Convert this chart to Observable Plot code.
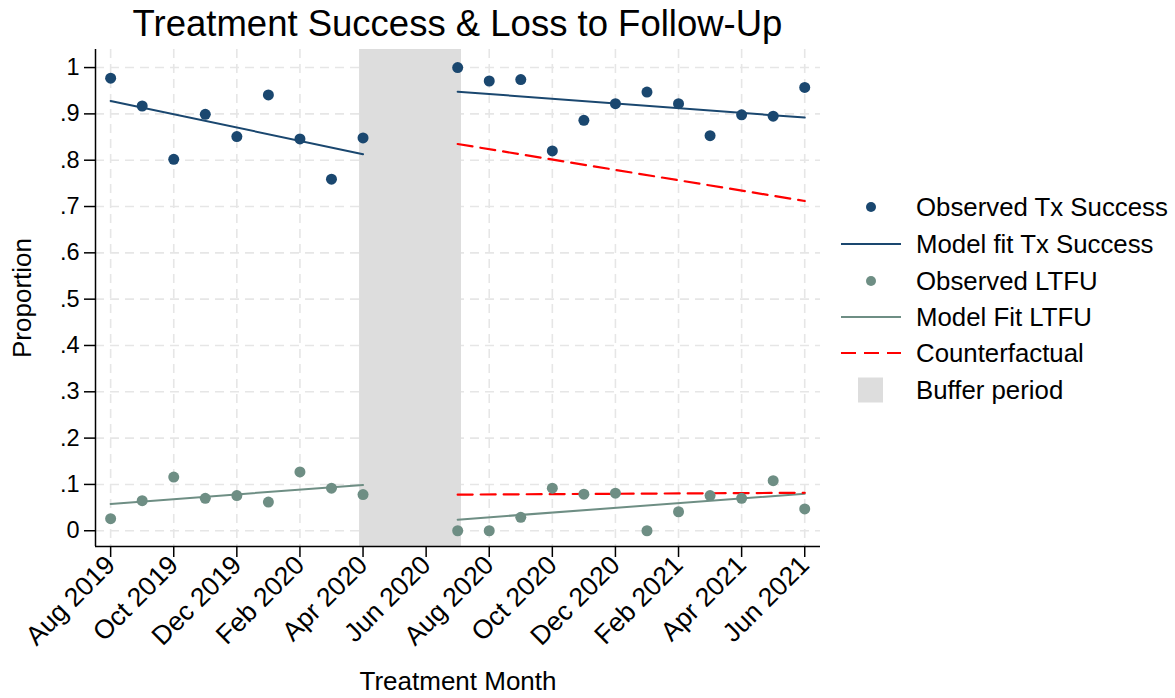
<!DOCTYPE html>
<html>
<head>
<meta charset="utf-8">
<script src="https://cdn.jsdelivr.net/npm/d3@7"></script>
<script src="https://cdn.jsdelivr.net/npm/@observablehq/plot@0.6"></script>
<style>
  html, body { margin: 0; padding: 0; background: #fff; }
  body { width: 1175px; height: 698px; position: relative; overflow: hidden;
         font-family: "Liberation Sans", Arial, Helvetica, sans-serif; color: #000; }
  #title { position: absolute; top: 2px; left: 0; width: 915px; height: 44px; line-height: 44px;
           text-align: center; font-size: 36.5px; }
  #chart { position: absolute; top: 44px; left: 0; }
  #legend { position: absolute; left: 0; top: 0; }
  .item { position: absolute; left: 838px; height: 36px; display: flex; align-items: center; font-size: 25.8px; white-space: nowrap; }
  .item svg { width: 66px; height: 30px; margin-right: 12px; }
</style>
</head>
<body>
<div id="title">Treatment Success &amp; Loss to Follow-Up</div>
<div id="chart"></div>
<div id="legend"></div>
<script>
// month index: 0 = Aug 2019 ... 22 = Jun 2021
const tickMonths = [0, 2, 4, 6, 8, 10, 12, 14, 16, 18, 20, 22];
const tickLabels = ["Aug 2019", "Oct 2019", "Dec 2019", "Feb 2020", "Apr 2020", "Jun 2020",
                    "Aug 2020", "Oct 2020", "Dec 2020", "Feb 2021", "Apr 2021", "Jun 2021"];
const yTicks = [0, 0.1, 0.2, 0.3, 0.4, 0.5, 0.6, 0.7, 0.8, 0.9, 1];

const preMonths = [0, 1, 2, 3, 4, 5, 6, 7, 8];
const postMonths = [11, 12, 13, 14, 15, 16, 17, 18, 19, 20, 21, 22];

const preTx = [0.977, 0.917, 0.802, 0.899, 0.851, 0.941, 0.846, 0.759, 0.848];
const postTx = [1.0, 0.971, 0.974, 0.820, 0.886, 0.922, 0.947, 0.922, 0.853, 0.898, 0.895, 0.957];
const preLtfu = [0.026, 0.065, 0.116, 0.070, 0.076, 0.062, 0.127, 0.092, 0.078];
const postLtfu = [0.0, 0.0, 0.029, 0.092, 0.079, 0.081, 0.0, 0.041, 0.076, 0.070, 0.108, 0.047];

const preFitMonths = [0, 8];
const postFitMonths = [11, 22];
const fitTxPre = [0.928, 0.813];
const fitTxPost = [0.948, 0.892];
const fitLtfuPre = [0.058, 0.099];
const fitLtfuPost = [0.024, 0.080];
const cfTx = [0.835, 0.712];
const cfLtfu = [0.078, 0.082];

const bufferStart = 7.89;
const bufferEnd = 11.12;

const legendLabels = ["Observed Tx Success", "Model fit Tx Success", "Observed LTFU",
                      "Model Fit LTFU", "Counterfactual", "Buffer period"];

const navy = "#1a476f";
const green = "#6e8e84";
const red = "#ff0000";
const gray = "#dddddd";

const xDomain = [-0.48, 22.5];
const yDomain = [-0.034, 1.039];

const pts = (xs, ys) => xs.map((x, i) => ({x, y: ys[i]}));
const yFmt = d => d === 0 ? "0" : d === 1 ? "1" : "." + Math.round(d * 10);
const xFmt = d => tickLabels[tickMonths.indexOf(d)];

const plot = Plot.plot({
  width: 840,
  height: 654,
  marginTop: 5,
  marginLeft: 95,
  marginRight: 20,
  marginBottom: 152,
  style: {fontFamily: '"Liberation Sans", Arial, Helvetica, sans-serif', fontSize: "21px", color: "#000", background: "#fff"},
  x: {domain: xDomain},
  y: {domain: yDomain},
  marks: [
    Plot.ruleY(yTicks, {stroke: "#e6e6e6", strokeWidth: 1.6, strokeDasharray: "9,6"}),
    Plot.ruleX(tickMonths, {stroke: "#e6e6e6", strokeWidth: 1.6, strokeDasharray: "9,6"}),
    Plot.rectX([{x1: bufferStart, x2: bufferEnd}], {x1: "x1", x2: "x2", fill: gray}),
    Plot.line(pts(preFitMonths, fitTxPre), {x: "x", y: "y", stroke: navy, strokeWidth: 2}),
    Plot.line(pts(postFitMonths, fitTxPost), {x: "x", y: "y", stroke: navy, strokeWidth: 2}),
    Plot.line(pts(preFitMonths, fitLtfuPre), {x: "x", y: "y", stroke: green, strokeWidth: 2}),
    Plot.line(pts(postFitMonths, fitLtfuPost), {x: "x", y: "y", stroke: green, strokeWidth: 2}),
    Plot.line(pts(postFitMonths, cfTx), {x: "x", y: "y", stroke: red, strokeWidth: 2.2, strokeDasharray: "15,8"}),
    Plot.line(pts(postFitMonths, cfLtfu), {x: "x", y: "y", stroke: red, strokeWidth: 2.2, strokeDasharray: "15,8"}),
    Plot.dot(pts(preMonths, preTx), {x: "x", y: "y", r: 5.5, fill: navy}),
    Plot.dot(pts(postMonths, postTx), {x: "x", y: "y", r: 5.5, fill: navy}),
    Plot.dot(pts(preMonths, preLtfu), {x: "x", y: "y", r: 5.5, fill: green}),
    Plot.dot(pts(postMonths, postLtfu), {x: "x", y: "y", r: 5.5, fill: green}),
    Plot.ruleX([xDomain[0]], {stroke: "#000", strokeWidth: 1.5}),
    Plot.ruleY([yDomain[0]], {stroke: "#000", strokeWidth: 1.5}),
    Plot.axisY({ticks: yTicks, tickFormat: yFmt, tickSize: 11, tickPadding: 5, label: null, strokeWidth: 1.5, fontSize: 23.5}),
    Plot.axisX({ticks: tickMonths, tickFormat: xFmt, tickSize: 11, tickPadding: 3, tickRotate: -45, label: null, strokeWidth: 1.5, fontSize: 26.5}),
    Plot.text(["Proportion"], {frameAnchor: "left", dx: -73, rotate: -90, fontSize: 26, textAnchor: "middle", lineAnchor: "middle"}),
    Plot.text(["Treatment Month"], {frameAnchor: "bottom", dy: 135, fontSize: 26, textAnchor: "middle", lineAnchor: "middle"})
  ]
});
document.getElementById("chart").appendChild(plot);

// Legend
const legendY = [207, 244, 281, 317, 353, 390];
const symbols = [
  `<circle cx="33" cy="15" r="5" fill="${navy}"/>`,
  `<line x1="3" x2="63" y1="15" y2="15" stroke="${navy}" stroke-width="2"/>`,
  `<circle cx="33" cy="15" r="5" fill="${green}"/>`,
  `<line x1="3" x2="63" y1="15" y2="15" stroke="${green}" stroke-width="2"/>`,
  `<line x1="3" x2="63" y1="15" y2="15" stroke="${red}" stroke-width="2.2" stroke-dasharray="15,8"/>`,
  `<rect x="20" y="2.5" width="25" height="25" fill="${gray}"/>`
];
const legend = document.getElementById("legend");
legendLabels.forEach((label, i) => {
  const div = document.createElement("div");
  div.className = "item";
  div.style.top = (legendY[i] - 18) + "px";
  div.innerHTML = `<svg viewBox="0 0 66 30">${symbols[i]}</svg><span></span>`;
  div.querySelector("span").textContent = label;
  legend.appendChild(div);
});
</script>
</body>
</html>
